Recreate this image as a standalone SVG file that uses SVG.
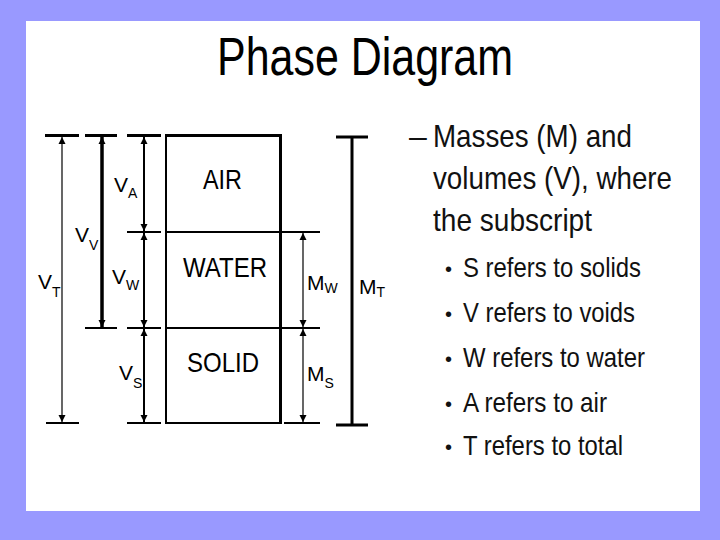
<svg xmlns="http://www.w3.org/2000/svg" width="720" height="540" viewBox="0 0 720 540">
<defs>
<style>
text{font-family:"Liberation Sans",Arial,sans-serif;fill:#000}
.lbl{font-size:21px}
.sub{font-size:14px}
.phase{font-size:28px}
.bar{stroke:#000;stroke-width:2;fill:none}
.barT{stroke:#000;stroke-width:3;fill:none}
.dim{stroke:#000;fill:none;marker-start:url(#ah);marker-end:url(#ah)}
.txt{font-size:32px;fill:#111}
.bul{font-size:28px;fill:#111}
.dot{font-size:20px;fill:#111}
</style>
<marker id="ah" markerUnits="userSpaceOnUse" markerWidth="8" markerHeight="8" refX="7" refY="4" orient="auto-start-reverse">
<path d="M0,0.5 L7,4 L0,7.5 z" fill="#000"/>
</marker>
</defs>
<rect x="0" y="0" width="720" height="540" fill="#9999FF"/>
<rect x="26" y="21" width="674" height="490" fill="#FFFFFF"/>
<text x="217" y="75" font-size="53" textLength="296" lengthAdjust="spacingAndGlyphs">Phase Diagram</text>
<g id="soil-box">
<path class="barT" d="M165,135.5 H282"/>
<path class="bar" d="M166,135.5 V423 H280"/>
<path class="bar" d="M166,232 H320 M166,328 H320 M284,423 H320"/>
<path stroke="#000" stroke-width="3" d="M280.5,135 V424"/>
</g>
<g id="air"><text class="phase" x="222.5" y="189" text-anchor="middle" textLength="39" lengthAdjust="spacingAndGlyphs">AIR</text></g>
<g id="water"><text class="phase" x="225" y="277" text-anchor="middle" textLength="84" lengthAdjust="spacingAndGlyphs">WATER</text></g>
<g id="solid"><text class="phase" x="223" y="372" text-anchor="middle" textLength="72" lengthAdjust="spacingAndGlyphs">SOLID</text></g>
<g id="connectors">
<path class="barT" d="M45,135.5 H79 M85,135.5 H117 M127,135.5 H161"/>
<path class="bar" d="M127,232 H161 M85,328 H117 M127,328 H161 M46,423 H79 M127,423 H161"/>
<path class="barT" d="M336,137 H368 M336,425 H368 M352,137 V425"/>
<path class="dim" stroke-width="1.2" d="M62,137 V422"/>
<path class="dim" stroke-width="3.5" d="M102,137 V327"/>
<path class="dim" stroke-width="2" d="M144,137 V231"/>
<path class="dim" stroke-width="2" d="M144,233 V327"/>
<path class="dim" stroke-width="2" d="M144,329 V422"/>
<path class="dim" stroke-width="1.2" d="M303,233 V327"/>
<path class="dim" stroke-width="1.2" d="M303,329 V422"/>
</g>
<g id="labels">
<text class="lbl" x="38" y="289">V<tspan class="sub" dy="8">T</tspan></text>
<text class="lbl" x="75" y="242">V<tspan class="sub" dy="8">V</tspan></text>
<text class="lbl" x="114" y="192">V<tspan class="sub" dy="6">A</tspan></text>
<text class="lbl" x="112" y="284">V<tspan class="sub" dy="6">W</tspan></text>
<text class="lbl" x="119" y="380">V<tspan class="sub" dy="8">S</tspan></text>
<text class="lbl" x="307" y="290">M<tspan class="sub" dy="3">W</tspan></text>
<text class="lbl" x="359" y="294">M<tspan class="sub" dy="3">T</tspan></text>
<text class="lbl" x="307" y="381">M<tspan class="sub" dy="7">S</tspan></text>
</g>
<g id="notes">
<text class="txt" x="409" y="147">–</text>
<text class="txt" x="433" y="147" textLength="199" lengthAdjust="spacingAndGlyphs">Masses (M) and</text>
<text class="txt" x="433" y="189" textLength="239" lengthAdjust="spacingAndGlyphs">volumes (V), where</text>
<text class="txt" x="433" y="231" textLength="159" lengthAdjust="spacingAndGlyphs">the subscript</text>
<text class="dot" x="445" y="276">•</text>
<text class="bul" x="463" y="277" textLength="178" lengthAdjust="spacingAndGlyphs">S refers to solids</text>
<text class="dot" x="445" y="321">•</text>
<text class="bul" x="463" y="322" textLength="172" lengthAdjust="spacingAndGlyphs">V refers to voids</text>
<text class="dot" x="445" y="366">•</text>
<text class="bul" x="463" y="367" textLength="182" lengthAdjust="spacingAndGlyphs">W refers to water</text>
<text class="dot" x="445" y="411">•</text>
<text class="bul" x="463" y="412" textLength="144" lengthAdjust="spacingAndGlyphs">A refers to air</text>
<text class="dot" x="445" y="454">•</text>
<text class="bul" x="463" y="455" textLength="160" lengthAdjust="spacingAndGlyphs">T refers to total</text>
</g>
</svg>
